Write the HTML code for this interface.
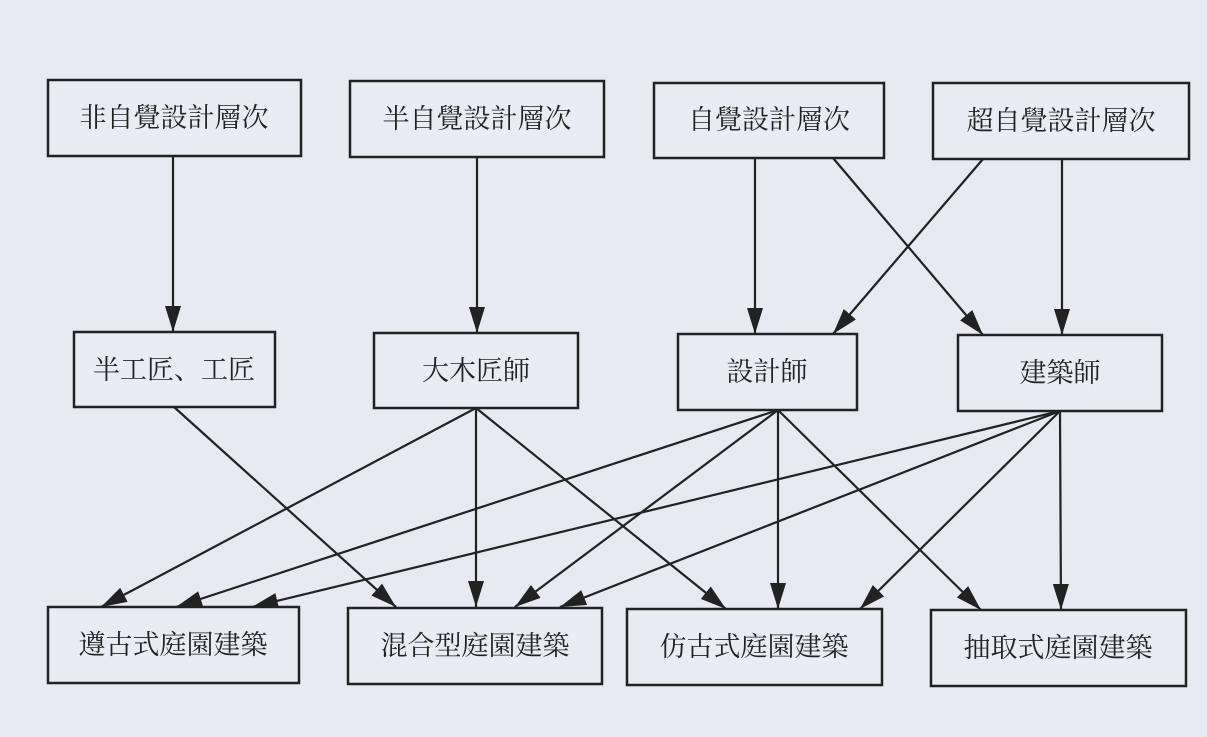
<!DOCTYPE html>
<html><head><meta charset="utf-8"><style>
html,body{margin:0;padding:0;background:#e7e9f3;}
svg{display:block}
text{font-family:"Liberation Serif","Noto Serif CJK SC","Noto Sans CJK TC",serif;font-size:27px;fill:#222;text-anchor:middle;dominant-baseline:central;}
rect{fill:#e9ebf5;stroke:#222;stroke-width:2.5}
line{stroke:#222;stroke-width:2.2}
</style></head><body>
<svg width="1207" height="737" viewBox="0 0 1207 737" xmlns="http://www.w3.org/2000/svg">
<defs><marker id="a" markerWidth="26" markerHeight="16" refX="26" refY="8" viewBox="0 0 26 16" orient="auto" markerUnits="userSpaceOnUse"><path d="M0,0 L26,8 L0,16 z" fill="#222"/></marker></defs>
<rect x="0" y="0" width="1207" height="737" style="fill:#e7e9f3;stroke:none"/>
<g>
<line x1="173" y1="157" x2="173" y2="332" marker-end="url(#a)"/>
<line x1="477" y1="158" x2="477" y2="333" marker-end="url(#a)"/>
<line x1="755" y1="158" x2="755" y2="334" marker-end="url(#a)"/>
<line x1="833" y1="158" x2="983" y2="335" marker-end="url(#a)"/>
<line x1="983" y1="159" x2="833" y2="334" marker-end="url(#a)"/>
<line x1="1062" y1="159" x2="1062" y2="335" marker-end="url(#a)"/>

<line x1="174" y1="407" x2="396" y2="607" marker-end="url(#a)"/>
<line x1="476" y1="408" x2="101" y2="607" marker-end="url(#a)"/>
<line x1="476" y1="408" x2="476" y2="607" marker-end="url(#a)"/>
<line x1="476" y1="408" x2="726" y2="609" marker-end="url(#a)"/>
<line x1="778" y1="410" x2="176" y2="607" marker-end="url(#a)"/>
<line x1="778" y1="410" x2="515" y2="607" marker-end="url(#a)"/>
<line x1="778" y1="410" x2="778" y2="609" marker-end="url(#a)"/>
<line x1="778" y1="410" x2="981" y2="610" marker-end="url(#a)"/>
<line x1="1060" y1="411" x2="252" y2="607" marker-end="url(#a)"/>
<line x1="1060" y1="411" x2="560" y2="607" marker-end="url(#a)"/>
<line x1="1060" y1="411" x2="860" y2="609" marker-end="url(#a)"/>
<line x1="1060" y1="411" x2="1061" y2="610" marker-end="url(#a)"/>
</g>
<g>
<rect x="48" y="80" width="253" height="76"/><text x="174" y="118">非自覺設計層次</text>
<rect x="350" y="81" width="254" height="76"/><text x="477" y="119">半自覺設計層次</text>
<rect x="654" y="83" width="230" height="75"/><text x="769" y="120">自覺設計層次</text>
<rect x="933" y="83" width="256" height="76"/><text x="1061" y="121">超自覺設計層次</text>

<rect x="74" y="332" width="201" height="75"/><text x="174" y="370">半工匠、工匠</text>
<rect x="374" y="333" width="204" height="75"/><text x="476" y="371">大木匠師</text>
<rect x="678" y="334" width="179" height="76"/><text x="767" y="372">設計師</text>
<rect x="958" y="335" width="204" height="76"/><text x="1060" y="373">建築師</text>

<rect x="48" y="607" width="251" height="76"/><text x="173" y="645">遵古式庭園建築</text>
<rect x="348" y="608" width="254" height="76"/><text x="475" y="646">混合型庭園建築</text>
<rect x="627" y="609" width="255" height="76"/><text x="754" y="647">仿古式庭園建築</text>
<rect x="931" y="610" width="255" height="76"/><text x="1058" y="648">抽取式庭園建築</text>
</g>
</svg>
</body></html>
